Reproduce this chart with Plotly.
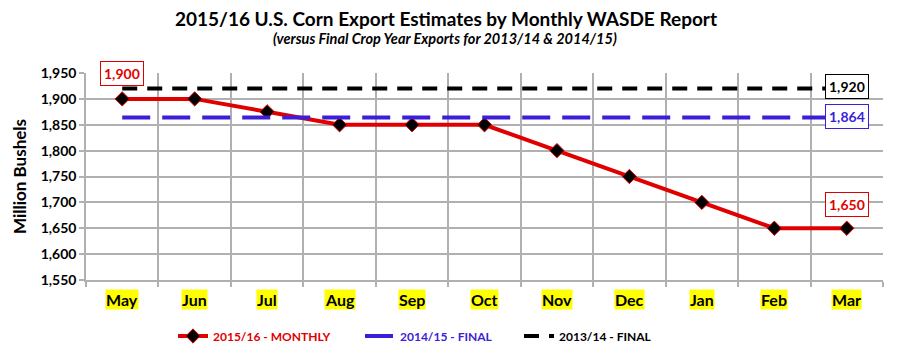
import plotly.graph_objects as go

months = ["May", "Jun", "Jul", "Aug", "Sep", "Oct", "Nov", "Dec", "Jan", "Feb", "Mar"]
monthly_1516 = [1900, 1900, 1875, 1850, 1850, 1850, 1800, 1750, 1700, 1650, 1650]
final_1415 = 1864
final_1314 = 1920
y_ticks = [1550, 1600, 1650, 1700, 1750, 1800, 1850, 1900, 1950]

RED = "#e00000"
BLUE = "#3c1ed8"
BLACK = "#000000"
GRID = "#b0b0b0"
FONT = "Lato"

W, H = 898, 358
ML, MR, MT, MB = 86, 15, 73, 78
PW = W - ML - MR
PH = H - MT - MB


def px_x(p):
    return (p - ML) / PW


def px_y(p):
    return (H - MB - p) / PH


fig = go.Figure()

fig.add_trace(go.Scatter(
    x=months, y=monthly_1516, mode="lines+markers",
    name="<span style='color:%s'>2015/16 - MONTHLY</span>" % RED,
    line=dict(color=RED, width=4),
    marker=dict(symbol="diamond", size=11, color="black", line=dict(color=RED, width=1)),
    legend="legend",
))
fig.add_trace(go.Scatter(
    x=months, y=[final_1415] * len(months), mode="lines",
    name="<span style='color:%s'>2014/15 - FINAL</span>" % BLUE,
    line=dict(color=BLUE, width=4, dash="28px,12px"),
    legend="legend2",
))
fig.add_trace(go.Scatter(
    x=months, y=[final_1314] * len(months), mode="lines",
    name="2013/14 - FINAL",
    line=dict(color=BLACK, width=4, dash="15px,10px"),
    legend="legend3",
))

lab_font = dict(size=14, family=FONT, weight="bold")
annotations = []
annotations.append(dict(x=months[0], y=monthly_1516[0], text=f"{monthly_1516[0]:,}", showarrow=False,
                        yshift=25, font=dict(color=RED, **lab_font),
                        bgcolor="white", bordercolor=RED, borderwidth=1, borderpad=3))
annotations.append(dict(x=months[-1], y=monthly_1516[-1], text=f"{monthly_1516[-1]:,}", showarrow=False,
                        yshift=24, font=dict(color=RED, **lab_font),
                        bgcolor="white", bordercolor=RED, borderwidth=1, borderpad=3))
annotations.append(dict(x=months[-1], y=final_1314, text=f"{final_1314:,}", showarrow=False, yshift=2,
                        font=dict(color=BLACK, **lab_font),
                        bgcolor="white", bordercolor=BLACK, borderwidth=1, borderpad=3))
annotations.append(dict(x=months[-1], y=final_1415, text=f"{final_1415:,}", showarrow=False, yshift=1,
                        font=dict(color=BLUE, **lab_font),
                        bgcolor="white", bordercolor=BLUE, borderwidth=1, borderpad=3))
for m in months:
    annotations.append(dict(x=m, y=0, xref="x", yref="paper", yshift=-19, text=m, showarrow=False,
                            yanchor="middle", font=dict(color="black", size=16, family=FONT, weight="bold"),
                            bgcolor="#ffff00", borderpad=0))
annotations.append(dict(x=px_x(446), y=px_y(19), xref="paper", yref="paper", xanchor="center", yanchor="middle",
                        text="2015/16 U.S. Corn Export Estimates by Monthly WASDE Report", showarrow=False,
                        font=dict(size=19, family=FONT, weight="bold", color="black")))
annotations.append(dict(x=px_x(445), y=px_y(39), xref="paper", yref="paper", xanchor="center", yanchor="middle",
                        text="<i>(versus Final Crop Year Exports for 2013/14 &amp; 2014/15)</i>",
                        showarrow=False, font=dict(size=14.5, family=FONT, weight="bold", color="black")))

leg_common = dict(orientation="h", xanchor="left", y=px_y(336), yanchor="middle",
                  font=dict(size=12, family=FONT, weight="bold", color="black"), bgcolor="rgba(0,0,0,0)")

fig.update_layout(
    width=W, height=H,
    margin=dict(l=ML, r=MR, t=MT, b=MB, autoexpand=False),
    paper_bgcolor="white", plot_bgcolor="white",
    showlegend=True,
    legend=dict(x=px_x(173), **leg_common),
    legend2=dict(x=px_x(360), **leg_common),
    legend3=dict(x=px_x(519), **leg_common),
    annotations=annotations,
    hovermode=False,
)

fig.update_xaxes(
    type="category", categoryorder="array", categoryarray=months, range=[-0.5, 10.5],
    tickson="boundaries", showgrid=True, gridcolor=GRID, gridwidth=1.5,
    showticklabels=False, ticks="outside", ticklen=5, tickcolor=GRID, tickwidth=1.5,
    showline=True, linecolor=GRID, linewidth=1.5, zeroline=False, automargin=False,
)
fig.update_yaxes(
    range=[1550, 1950], tickvals=y_ticks, tickformat=",", showgrid=True, gridcolor=GRID, gridwidth=1.5,
    ticks="outside", ticklen=5, tickcolor=GRID, tickwidth=1.5,
    showline=True, linecolor=GRID, linewidth=1.5, zeroline=False, automargin=False,
    tickfont=dict(size=14, family=FONT, weight="bold", color="black"),
    title=dict(text="Million Bushels", font=dict(size=17, family=FONT, weight="bold", color="black"), standoff=10),
)

fig.write_html("out.html", config={"displayModeBar": False},
               post_script="document.body.style.margin='0';")
